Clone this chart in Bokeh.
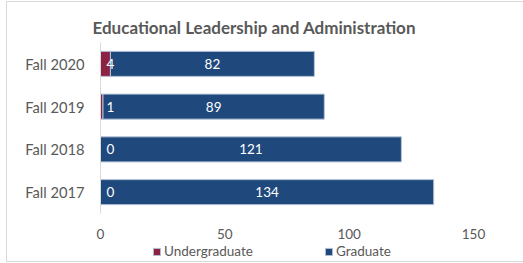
from bokeh.plotting import figure
from bokeh.layouts import column
from bokeh.models import ColumnDataSource, FactorRange, Range1d, Legend, LegendItem
from bokeh.core.properties import value
from bokeh.embed import file_html
from bokeh.resources import INLINE

categories = ["Fall 2017", "Fall 2018", "Fall 2019", "Fall 2020"]
undergraduate = [0, 0, 1, 4]
graduate = [134, 121, 89, 82]
series = ["Undergraduate", "Graduate"]
x_ticks = [0, 50, 100, 150]

MAROON = "#8c2345"
BLUE = "#1f497d"
GREY = "#595959"
FONT = "Lato"
colors = [MAROON, BLUE]

src = ColumnDataSource(dict(
    cat=categories,
    Undergraduate=undergraduate,
    Graduate=graduate,
    ug_lab=[str(v) for v in undergraduate],
    gr_lab=[str(v) for v in graduate],
    gr_mid=[u + g / 2 for u, g in zip(undergraduate, graduate)],
    zero=[0] * len(categories),
))

top_css = (":host::after{content:'';position:absolute;left:6px;top:1px;right:0;bottom:0;"
           "border-left:1.5px solid #d9d9d9;border-top:1.5px solid #d9d9d9;pointer-events:none;}")
bot_css = (":host::after{content:'';position:absolute;left:6px;top:0;right:0;bottom:1px;"
           "border-left:1.5px solid #d9d9d9;border-bottom:1.5px solid #d9d9d9;pointer-events:none;}")

p = figure(width=523, height=242, output_backend="svg", toolbar_location=None,
           y_range=FactorRange(factors=categories, range_padding=0),
           x_range=Range1d(0, 150),
           min_border_left=100, min_border_right=50, min_border_top=42, min_border_bottom=29,
           title="Educational Leadership and Administration",
           stylesheets=[top_css])

p.title.text_font = FONT
p.title.text_font_size = "17px"
p.title.text_color = GREY
p.title.align = "left"
p.title.offset = -8

rs = p.hbar_stack(series, y="cat", height=0.585,
                  color=colors, line_color="#b4c3d6", line_width=1, source=src)

p.text(x="zero", y="cat", text="ug_lab", source=src, x_offset=6,
       text_align="left", text_baseline="middle", text_color="white",
       text_font=value(FONT), text_font_size="13.5px")
p.text(x="gr_mid", y="cat", text="gr_lab", source=src,
       text_align="center", text_baseline="middle", text_color="white",
       text_font=value(FONT), text_font_size="13.5px")

p.xgrid.visible = False
p.ygrid.visible = False
p.outline_line_color = None

p.xaxis.ticker = x_ticks
p.xaxis.axis_line_color = None
p.xaxis.major_tick_line_color = None
p.xaxis.minor_tick_line_color = None
p.xaxis.major_label_standoff = 9
p.xaxis.major_label_text_font = FONT
p.xaxis.major_label_text_font_size = "13.5px"
p.xaxis.major_label_text_color = GREY

p.yaxis.axis_line_color = "#d9d9d9"
p.yaxis.major_tick_line_color = None
p.yaxis.minor_tick_line_color = None
p.yaxis.major_label_standoff = 10
p.yaxis.major_label_text_font = FONT
p.yaxis.major_label_text_font_size = "14.7px"
p.yaxis.major_label_text_color = GREY

# legend strip below the chart (its frame is aligned with the chart frame)
lg = figure(width=523, height=21, output_backend="svg", toolbar_location=None,
            x_axis_type=None, y_axis_type=None, min_border=0,
            x_range=Range1d(0, 150), y_range=FactorRange(factors=categories),
            stylesheets=[bot_css])
lg.outline_line_color = None
lg.xgrid.visible = False
lg.ygrid.visible = False
lrs = lg.hbar_stack(series, y="cat", height=0.585, color=colors,
                    line_color="#b4c3d6", line_width=1, source=src, visible=False)
items = [LegendItem(label=name, renderers=[r]) for name, r in zip(series, lrs)]

legend = Legend(items=items, orientation="horizontal", location=(52, 4),
                glyph_width=9, glyph_height=9, label_standoff=3, spacing=70,
                padding=0, margin=0, border_line_color=None, background_fill_alpha=0,
                label_text_font=FONT, label_text_font_size="13.5px",
                label_text_color=GREY, label_height=12, label_width=90,
                inactive_fill_alpha=0)
lg.add_layout(legend, "center")

layout = column(p, lg, spacing=0)
open("out.html", "w").write(file_html(layout, INLINE))
